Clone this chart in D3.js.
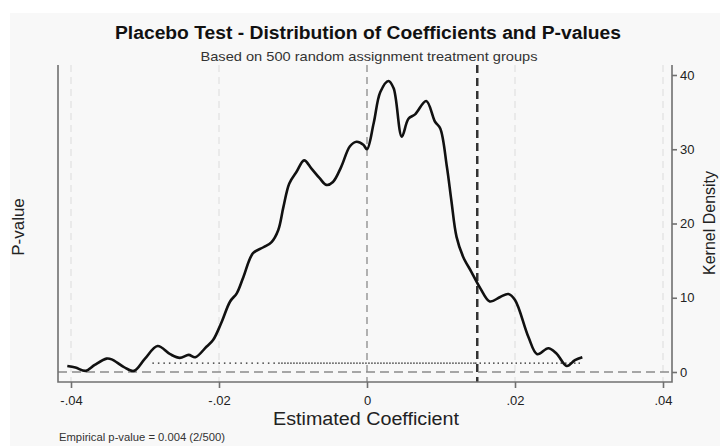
<!DOCTYPE html>
<html>
<head>
<meta charset="utf-8">
<script src="https://cdn.jsdelivr.net/npm/d3@7"></script>
<style>
  body { margin: 0; background: #fff; }
  svg { display: block; font-family: "Liberation Sans", Arial, sans-serif; }
</style>
</head>
<body>
<div id="chart"></div>
<script>
// placebo estimates -> kernel density
var coef = [-0.0405, -0.0394, -0.0380, -0.0368, -0.0352, -0.0345, -0.0329, -0.0315, -0.0300, -0.0283,
            -0.0266, -0.0253, -0.0241, -0.0232, -0.0217, -0.0208, -0.0197, -0.0185, -0.0176, -0.0167,
            -0.0154, -0.0140, -0.0129, -0.0120, -0.0113, -0.0105, -0.0095, -0.0085, -0.0075, -0.0064,
            -0.0055, -0.0046, -0.0035, -0.0023, -0.0014, -0.0005, 0.0000, 0.0009, 0.0018, 0.0029,
            0.0036, 0.0047, 0.0056, 0.0065, 0.0080, 0.0092, 0.0099, 0.0108, 0.0114, 0.0121,
            0.0130, 0.0141, 0.0153, 0.0166, 0.0180, 0.0191, 0.0200, 0.0218, 0.0230, 0.0245,
            0.0256, 0.0270, 0.0281, 0.0291];
var density = [0.8, 0.6, 0.15, 0.95, 1.8, 1.7, 0.7, 0.15, 1.8, 3.5,
               2.4, 1.9, 2.3, 2.0, 3.4, 4.3, 6.6, 9.5, 10.6, 12.8,
               16.0, 16.8, 17.5, 19.1, 22.2, 25.4, 27.0, 28.5, 27.4, 26.1,
               25.2, 25.6, 27.6, 30.4, 31.0, 30.6, 30.0, 33.5, 37.7, 39.2,
               38.2, 31.7, 34.1, 34.7, 36.5, 33.7, 32.8, 27.6, 23.1, 18.2,
               15.5, 13.5, 11.3, 9.5, 10.1, 10.5, 9.7, 4.75, 2.4, 3.2,
               2.5, 0.8, 1.6, 2.0];

var xTicks = [-0.04, -0.02, 0, 0.02, 0.04];
var xTickLabels = ["-.04", "-.02", "0", ".02", ".04"];
var yTicks = [0, 10, 20, 30, 40];

var trueCoef = 0.0149;          // actual treatment estimate
var pvalSegments = [            // placebo p-value points (dotted band)
  [-0.0290, -0.0120],
  [-0.0120, 0.0146],
  [0.0146, 0.0292]
];
var pvalLevel = 0.03;

var width = 720, height = 446;
var pl = 58, pr = 672, pt = 65, pb = 382;

var svg = d3.select('#chart').append('svg')
  .attr('width', width).attr('height', height);

svg.append('rect').attr('x', 10).attr('y', 13)
  .attr('width', width - 10).attr('height', height - 13)
  .attr('fill', '#f8f8f8');

var x = d3.scaleLinear().domain([-0.04, 0.04]).range([71, 663]);
var y = d3.scaleLinear().domain([0, 40]).range([372, 75]);
var yp = d3.scaleLinear().domain([0, 1]).range([372, 75]);

// vertical reference lines
var grid = svg.append('g');
grid.selectAll('line.g').data([-0.04, -0.02, 0.02, 0.04]).enter().append('line')
  .attr('x1', function(d) { return x(d); }).attr('x2', function(d) { return x(d); })
  .attr('y1', pt).attr('y2', pb)
  .attr('stroke', '#dcdcdc').attr('stroke-width', 1).attr('stroke-dasharray', '7,5');

grid.append('line')
  .attr('x1', x(0)).attr('x2', x(0)).attr('y1', pt).attr('y2', pb)
  .attr('stroke', '#8a8a8a').attr('stroke-width', 1.3).attr('stroke-dasharray', '7,5');

grid.append('line')
  .attr('x1', x(trueCoef)).attr('x2', x(trueCoef)).attr('y1', pt).attr('y2', pb)
  .attr('stroke', '#333').attr('stroke-width', 2.5).attr('stroke-dasharray', '8,5');

// horizontal dashed zero line
svg.append('line')
  .attr('x1', pl).attr('x2', pr).attr('y1', y(0)).attr('y2', y(0))
  .attr('stroke', '#8a8a8a').attr('stroke-width', 1.6).attr('stroke-dasharray', '9,5');

// p-value dots
var dashes = ['1.5,4', '1.5,1.5', '1.5,3'];
svg.selectAll('line.pv').data(pvalSegments).enter().append('line')
  .attr('x1', function(d) { return x(d[0]); }).attr('x2', function(d) { return x(d[1]); })
  .attr('y1', yp(pvalLevel)).attr('y2', yp(pvalLevel))
  .attr('stroke', '#222').attr('stroke-width', 1.3)
  .attr('stroke-dasharray', function(d, i) { return dashes[i]; });

// density curve
var line = d3.line()
  .x(function(d) { return x(d[0]); })
  .y(function(d) { return y(d[1]); })
  .curve(d3.curveCatmullRom);

svg.append('path')
  .datum(d3.zip(coef, density))
  .attr('d', line)
  .attr('fill', 'none').attr('stroke', '#111').attr('stroke-width', 2.6)
  .attr('stroke-linejoin', 'round');

// axes
var axisCol = '#707070';
svg.append('path')
  .attr('d', 'M' + pl + ',' + pt + 'V' + pb + 'H' + pr + 'V' + pt)
  .attr('fill', 'none').attr('stroke', axisCol).attr('stroke-width', 1.6);

var xa = svg.append('g').attr('transform', 'translate(0,' + pb + ')')
  .call(d3.axisBottom(x).tickValues(xTicks).tickSize(6).tickSizeOuter(0)
    .tickFormat(function(d, i) { return xTickLabels[i]; }));
xa.select('.domain').remove();
xa.selectAll('line').attr('stroke', axisCol).attr('stroke-width', 1.6);
xa.selectAll('text').attr('font-size', 13).attr('fill', '#222').attr('dy', '1.05em')
  .attr('font-family', '"Liberation Sans", Arial, sans-serif');

var ya = svg.append('g').attr('transform', 'translate(' + pr + ',0)')
  .call(d3.axisRight(y).tickValues(yTicks).tickSize(5).tickSizeOuter(0).tickPadding(3));
ya.select('.domain').remove();
ya.selectAll('line').attr('stroke', axisCol).attr('stroke-width', 1.6);
ya.selectAll('text').attr('font-size', 13).attr('fill', '#222')
  .attr('font-family', '"Liberation Sans", Arial, sans-serif');

// titles
svg.append('text').attr('x', 368).attr('y', 39).attr('text-anchor', 'middle')
  .attr('font-size', 18).attr('font-weight', 'bold').attr('fill', '#111')
  .attr('textLength', 506).attr('lengthAdjust', 'spacingAndGlyphs')
  .text('Placebo Test - Distribution of Coefficients and P-values');

svg.append('text').attr('x', 369).attr('y', 61).attr('text-anchor', 'middle')
  .attr('font-size', 13).attr('fill', '#333')
  .attr('textLength', 337).attr('lengthAdjust', 'spacingAndGlyphs')
  .text('Based on 500 random assignment treatment groups');

svg.append('text').attr('x', 366).attr('y', 425).attr('text-anchor', 'middle')
  .attr('font-size', 18).attr('fill', '#222')
  .attr('textLength', 186).attr('lengthAdjust', 'spacingAndGlyphs')
  .text('Estimated Coefficient');

svg.append('text').attr('transform', 'translate(24,227) rotate(-90)')
  .attr('text-anchor', 'middle').attr('font-size', 17).attr('fill', '#222')
  .text('P-value');

svg.append('text').attr('transform', 'translate(715,223) rotate(-90)')
  .attr('text-anchor', 'middle').attr('font-size', 16).attr('fill', '#222')
  .text('Kernel Density');

svg.append('text').attr('x', 59).attr('y', 441)
  .attr('font-size', 11).attr('fill', '#333')
  .attr('textLength', 166).attr('lengthAdjust', 'spacingAndGlyphs')
  .text('Empirical p-value = 0.004 (2/500)');
</script>
</body>
</html>
